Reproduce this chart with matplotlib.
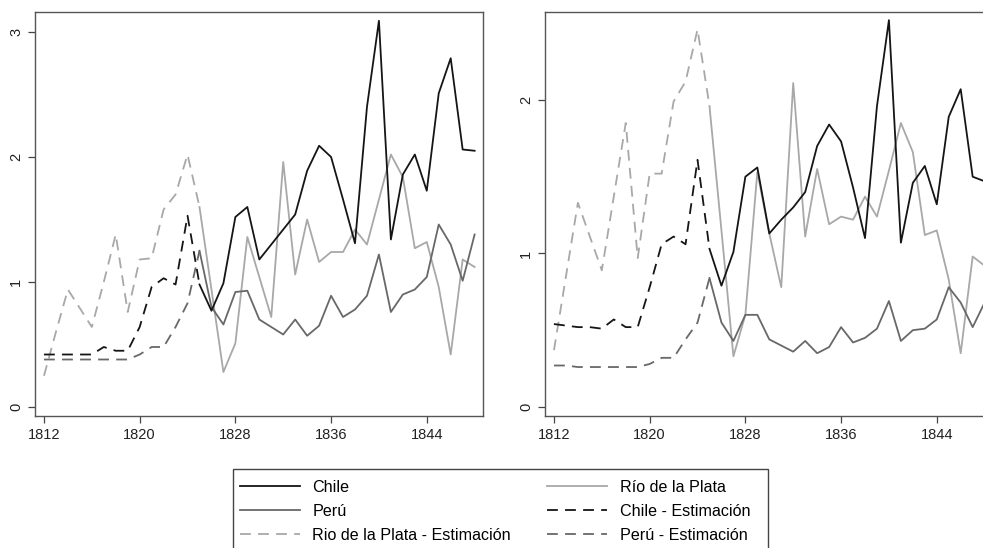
import numpy as np
import matplotlib.pyplot as plt
from matplotlib.lines import Line2D
from matplotlib.patches import Rectangle

plt.rcParams['font.family'] = ['Liberation Sans', 'DejaVu Sans']

# years
years_est = list(range(1812, 1826))
years_obs = list(range(1825, 1849))

# left panel - estimates 1812-1825
chile_est_l = [0.42, 0.42, 0.42, 0.42, 0.42, 0.48, 0.45, 0.45, 0.64, 0.96, 1.03, 0.98, 1.53, 0.98]
peru_est_l = [0.38, 0.38, 0.38, 0.38, 0.38, 0.38, 0.38, 0.38, 0.42, 0.48, 0.48, 0.64, 0.83, 1.25]
rio_est_l = [0.25, 0.60, 0.94, 0.79, 0.64, 1.00, 1.38, 0.76, 1.18, 1.19, 1.58, 1.70, 2.02, 1.60]
# left panel - observed 1825-1848
chile_l = [0.98, 0.77, 0.99, 1.52, 1.60, 1.18, 1.30, 1.42, 1.54, 1.89, 2.09, 2.00,
           1.66, 1.31, 2.40, 3.09, 1.34, 1.86, 2.02, 1.73, 2.51, 2.79, 2.06, 2.05]
peru_l = [1.25, 0.80, 0.66, 0.92, 0.93, 0.70, 0.64, 0.58, 0.70, 0.57, 0.65, 0.89,
          0.72, 0.78, 0.89, 1.22, 0.76, 0.90, 0.94, 1.04, 1.46, 1.30, 1.01, 1.38]
rio_l = [1.60, 0.94, 0.28, 0.51, 1.36, 1.04, 0.72, 1.96, 1.06, 1.50, 1.16, 1.24,
         1.24, 1.42, 1.30, 1.66, 2.02, 1.84, 1.27, 1.32, 0.96, 0.42, 1.18, 1.12]

# right panel - estimates 1812-1825
chile_est_r = [0.54, 0.53, 0.52, 0.52, 0.51, 0.57, 0.52, 0.52, 0.78, 1.06, 1.11, 1.06, 1.61, 1.03]
peru_est_r = [0.27, 0.27, 0.26, 0.26, 0.26, 0.26, 0.26, 0.26, 0.28, 0.32, 0.32, 0.44, 0.55, 0.84]
rio_est_r = [0.37, 0.85, 1.33, 1.11, 0.89, 1.37, 1.85, 0.97, 1.52, 1.52, 1.99, 2.12, 2.46, 1.96]
# right panel - observed 1825-1848
chile_r = [1.03, 0.79, 1.01, 1.50, 1.56, 1.13, 1.22, 1.30, 1.40, 1.70, 1.84, 1.73,
           1.43, 1.10, 1.96, 2.52, 1.07, 1.46, 1.57, 1.32, 1.89, 2.07, 1.50, 1.47]
peru_r = [0.84, 0.55, 0.43, 0.60, 0.60, 0.44, 0.40, 0.36, 0.43, 0.35, 0.39, 0.52,
          0.42, 0.45, 0.51, 0.69, 0.43, 0.50, 0.51, 0.57, 0.78, 0.68, 0.52, 0.68]
rio_r = [1.96, 1.15, 0.33, 0.60, 1.53, 1.13, 0.78, 2.11, 1.11, 1.55, 1.19, 1.24,
         1.22, 1.37, 1.24, 1.54, 1.85, 1.66, 1.12, 1.15, 0.83, 0.35, 0.98, 0.92]

xticks = [1812, 1820, 1828, 1836, 1844]
labels = ['Chile', 'Perú', 'Rio de la Plata - Estimación',
          'Río de la Plata', 'Chile - Estimación', 'Perú - Estimación']

c_chile = '#151515'
c_peru = '#686868'
c_rio = '#a8a8a8'
dash = (6, 4)
lw = 1.3

fig = plt.figure(figsize=(9.83, 5.48), dpi=100)
W, H = 983, 548


def make_axes(x0, x1, y0, y1):
    return fig.add_axes([x0 / W, 1 - y1 / H, (x1 - x0) / W, (y1 - y0) / H])


def draw(ax, ce, pe, re, c, p, r, ylim, yticks):
    ax.plot(years_est, re, color=c_rio, lw=lw, dashes=dash)
    ax.plot(years_est, pe, color=c_peru, lw=lw, dashes=dash)
    ax.plot(years_est, ce, color=c_chile, lw=lw, dashes=dash)
    ax.plot(years_obs, r, color=c_rio, lw=lw)
    ax.plot(years_obs, p, color=c_peru, lw=lw)
    ax.plot(years_obs, c, color=c_chile, lw=lw)
    ax.set_xlim(1811.25, 1848.7)
    ax.set_ylim(*ylim)
    ax.set_xticks(xticks)
    ax.set_yticks(yticks)
    ax.set_yticklabels([str(t) for t in yticks], rotation=90, va='center')
    ax.tick_params(labelsize=10.5, length=5, color='#444444', width=0.9,
                   labelcolor='#222222')
    for s in ax.spines.values():
        s.set_color('#555555')
        s.set_linewidth(1.0)


ax1 = make_axes(35, 483, 12, 416)
draw(ax1, chile_est_l, peru_est_l, rio_est_l, chile_l, peru_l, rio_l,
     (-0.072, 3.16), [0, 1, 2, 3])

ax2 = make_axes(545, 993, 12, 416)
draw(ax2, chile_est_r, peru_est_r, rio_est_r, chile_r, peru_r, rio_r,
     (-0.059, 2.573), [0, 1, 2])

handles = [
    Line2D([], [], color=c_chile, lw=lw),
    Line2D([], [], color=c_peru, lw=lw),
    Line2D([], [], color=c_rio, lw=lw, dashes=dash),
    Line2D([], [], color=c_rio, lw=lw),
    Line2D([], [], color=c_chile, lw=lw, dashes=dash),
    Line2D([], [], color=c_peru, lw=lw, dashes=dash),
]

# legend frame, runs off the bottom of the picture
fig.patches.append(Rectangle((233 / W, 1 - 565 / H), (768 - 233) / W, (565 - 469) / H,
                             transform=fig.transFigure, fill=False,
                             edgecolor='#444444', lw=1.0))
fig.legend(handles, labels, ncol=2, loc='upper left',
           bbox_to_anchor=(240 / W, 1 - 480 / H), fontsize=11.6,
           handlelength=3.7, columnspacing=2.25, labelspacing=0.55,
           borderpad=0, handletextpad=0.8, frameon=False, borderaxespad=0)

fig.savefig('out.png', dpi=100)
